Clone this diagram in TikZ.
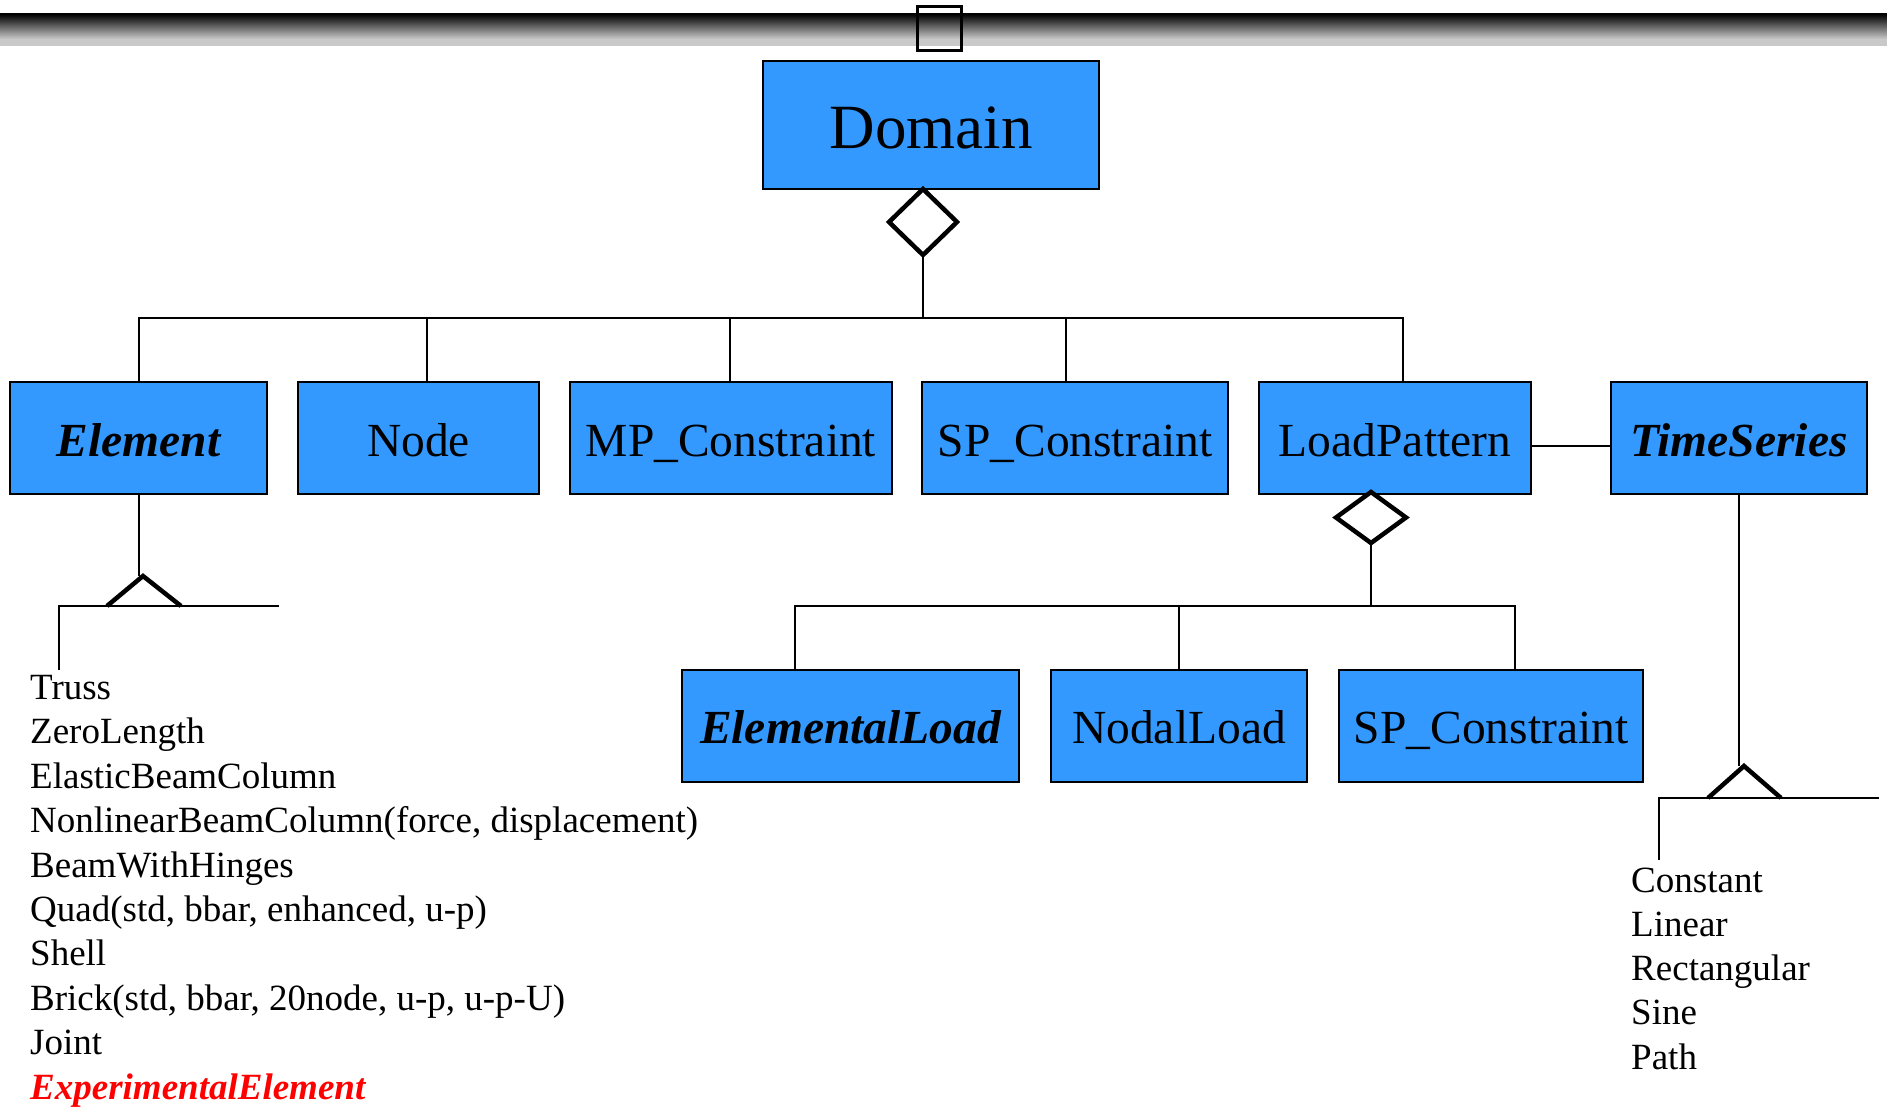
\documentclass[tikz,border=0pt]{standalone}
\usepackage{fontspec}
\setmainfont{Liberation Serif}
\definecolor{boxblue}{HTML}{3399FF}
\definecolor{barlight}{gray}{0.79}
\begin{document}
\begin{tikzpicture}[x=1pt,y=-1pt,
  cls/.style={draw=black, line width=2.5pt, fill=boxblue, inner sep=0pt,
    minimum height=112pt, font=\fontsize{47.5}{57}\selectfont,
    text height=36pt, text depth=0pt},
  cls2/.style={cls, text height=34pt},
  abst/.style={font=\fontsize{47.5}{57}\selectfont\bfseries\itshape},
  conn/.style={line width=2pt},
  agg/.style={line width=4.5pt, fill=white, line join=miter},
  inh/.style={line width=4.5pt, line join=miter},
  item/.style={inner sep=0pt, anchor=base west, font=\fontsize{37}{44}\selectfont}]
\useasboundingbox (0,0) rectangle (1887,1108);
% top bar
\shade[top color=black, bottom color=barlight] (0,14) rectangle (1887,39);
\fill[barlight] (0,39) rectangle (1887,46);
\node[draw=black, line width=3.5pt, minimum width=44pt, minimum height=44pt, inner sep=0pt] (pin) at (939.5,28.5) {};
% Domain
\node[cls, minimum width=336pt, minimum height=128pt, text height=46pt,
  font=\fontsize{63}{75}\selectfont] (Domain) at (931,125) {Domain};
% row 1
\node[cls, minimum width=257pt, abst] (Element) at (138.5,438) {Element};
\node[cls, minimum width=241pt] (Node) at (418.5,438) {Node};
\node[cls, minimum width=322pt] (MP) at (731,438) {MP\_Constraint};
\node[cls, minimum width=306pt] (SPa) at (1075,438) {SP\_Constraint};
\node[cls, minimum width=272pt] (LP) at (1395,438) {LoadPattern};
\node[cls, minimum width=256pt, abst] (TS) at (1739,438) {TimeSeries};
% row 2
\node[cls2, minimum width=337pt, abst] (EL) at (850.5,726) {ElementalLoad};
\node[cls2, minimum width=256pt] (NL) at (1179,726) {NodalLoad};
\node[cls2, minimum width=304pt] (SPb) at (1491,726) {SP\_Constraint};
% Domain aggregation
\coordinate (dtop) at (923,189);
\coordinate (dbot) at (923,255);
\coordinate (bus1) at (923,318);
\draw[conn] (dbot) -- (bus1);
\draw[conn] (Element.north) |- (bus1);
\draw[conn] ([xshift=8.5pt]Node.north) |- (bus1);
\draw[conn] ([xshift=-1pt]MP.north) |- (bus1);
\draw[conn] ([xshift=-9pt]SPa.north) |- (bus1);
\draw[conn] ([xshift=8pt]LP.north) |- (bus1);
\draw[agg] (dtop) -- (957,222) -- (dbot) -- (889,222) -- cycle;
% LoadPattern - TimeSeries
\draw[conn] ([yshift=-8pt]LP.east) -- ([yshift=-8pt]TS.west);
% LoadPattern aggregation
\coordinate (ltop) at (1371,492);
\coordinate (lbot) at (1371,543);
\coordinate (bus2) at (1371,606);
\draw[conn] (lbot) -- (bus2);
\draw[conn] ([xshift=-55.5pt]EL.north) |- (bus2);
\draw[conn] (NL.north) |- (bus2);
\draw[conn] ([xshift=24pt]SPb.north) |- (bus2);
\draw[agg] (ltop) -- (1406,517.5) -- (lbot) -- (1336,517.5) -- cycle;
% Element inheritance
\coordinate (eapex) at (143,576);
\coordinate (ebarL) at (58.5,606);
\coordinate (ebarR) at (279,606);
\coordinate (eleg) at (58.5,670);
\draw[conn] (Element.south) -- (Element.south |- eapex);
\draw[conn] (ebarR) -- (ebarL) -- (eleg);
\draw[inh] (107,606) -- (eapex) -- (181,606);
% TimeSeries inheritance
\coordinate (tapex) at (1744,766);
\coordinate (tbarL) at (1659,798);
\coordinate (tbarR) at (1879,798);
\coordinate (tleg) at (1659,860);
\draw[conn] (TS.south) -- (TS.south |- tapex);
\draw[conn] (tbarR) -- (tbarL) -- (tleg);
\draw[inh] (1708,798) -- (tapex) -- (1781,798);
% element list
\node[item] (l1) at (30,699.5) {Truss};
\node[item] (l2) at (30,743.9) {ZeroLength};
\node[item] (l3) at (30,788.3) {ElasticBeamColumn};
\node[item] (l4) at (30,832.7) {NonlinearBeamColumn(force, displacement)};
\node[item] (l5) at (30,877.1) {BeamWithHinges};
\node[item] (l6) at (30,921.5) {Quad(std, bbar, enhanced, u-p)};
\node[item] (l7) at (30,965.9) {Shell};
\node[item] (l8) at (30,1010.3) {Brick(std, bbar, 20node, u-p, u-p-U)};
\node[item] (l9) at (30,1054.7) {Joint};
\node[item, text=red, font=\fontsize{37}{44}\selectfont\bfseries\itshape] (l10) at (30,1099.1) {ExperimentalElement};
% time series list
\node[item] (t1) at (1631,892) {Constant};
\node[item] (t2) at (1631,936.3) {Linear};
\node[item] (t3) at (1631,980.6) {Rectangular};
\node[item] (t4) at (1631,1024.9) {Sine};
\node[item] (t5) at (1631,1069.2) {Path};
\end{tikzpicture}
\end{document}
